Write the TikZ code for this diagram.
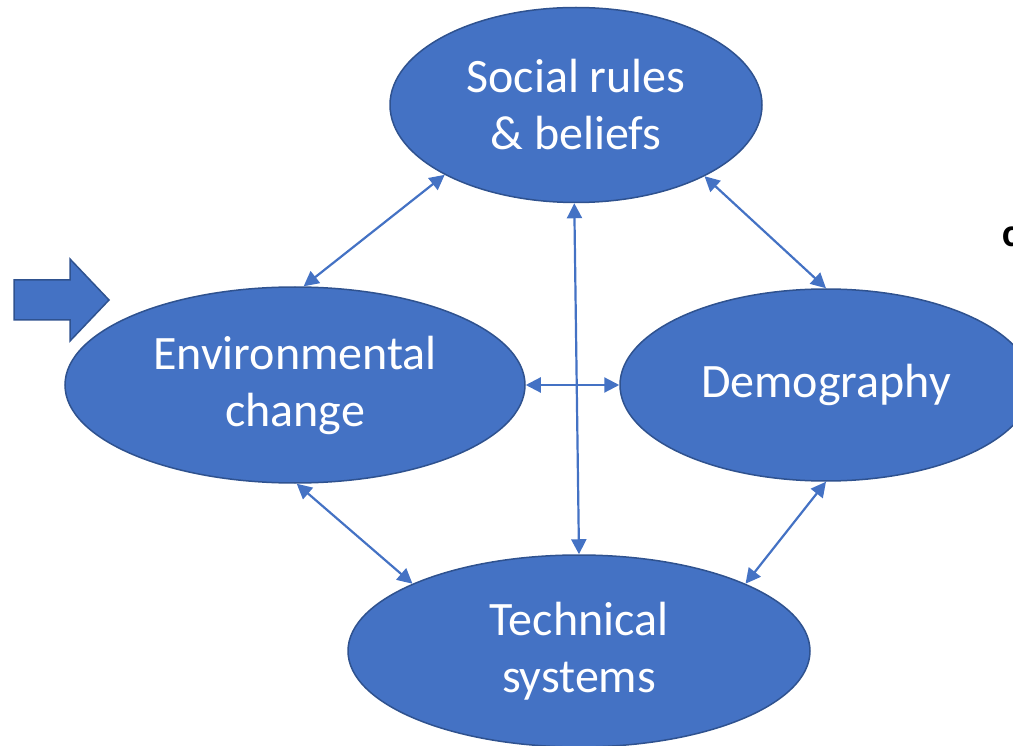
\documentclass[tikz,border=0pt]{standalone}
\usepackage{fontspec}
\setmainfont{Carlito}
\usetikzlibrary{shapes.geometric,arrows.meta}
\definecolor{boxfill}{HTML}{4472C4}
\definecolor{boxline}{HTML}{2F528F}
\tikzset{
  bubble/.style={ellipse, fill=boxfill, draw=boxline, line width=1.5pt, inner sep=0pt,
    text=white, align=center, font=\fontsize{48}{57}\selectfont},
  link/.style={draw=boxfill, line width=2.2pt, {Triangle[length=15pt,width=15pt]}-{Triangle[length=15pt,width=15pt]}},
  blockarrow/.style={fill=boxfill, draw=boxline, line width=1.5pt, line join=miter}
}
\begin{document}
\begin{tikzpicture}[x=1pt,y=-1pt]
\useasboundingbox (0,0) rectangle (1013,746);
\node[bubble, minimum width=372pt, minimum height=195pt] (soc) at (576,105) {Social rules\\\& beliefs};
\node[bubble, minimum width=460pt, minimum height=196pt] (env) at (295,385) {Environmental\\change};
\node[bubble, minimum width=412pt, minimum height=192pt] (dem) at (826,385) {Demography};
\node[bubble, minimum width=462pt, minimum height=192pt] (tec) at (579,651) {Technical\\systems};
\node[anchor=west, inner sep=0pt, font=\fontsize{40}{48}\selectfont\bfseries] (cc) at (1002,237) {c};
\draw[blockarrow] (14,280) -- (70,280) -- (70,259) -- (109,300) -- (70,341) -- (70,320) -- (14,320) -- cycle;
\draw[link] (env.85) -- (soc.208);
\draw[link] (soc.331) -- (dem.90);
\draw[link] (soc.269) -- (tec.90);
\draw[link] (env.0) -- (dem.180);
\draw[link] (env.271) -- (tec.158);
\draw[link] (dem.270) -- (tec.22);
\end{tikzpicture}
\end{document}
